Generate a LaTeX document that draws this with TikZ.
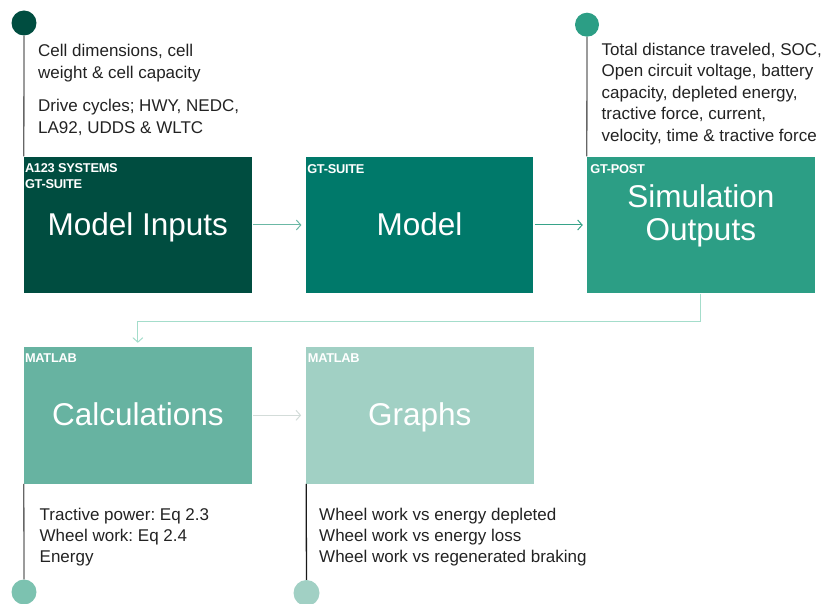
\documentclass[tikz,border=0pt]{standalone}
\usepackage{fontspec}
\setmainfont{Liberation Sans}
\newfontfamily\tagfont[LetterSpace=-2]{Liberation Sans}
\usetikzlibrary{arrows.meta,calc}
\frenchspacing

% stage fills, darkest to lightest
\definecolor{stageA}{HTML}{004D40}
\definecolor{stageB}{HTML}{00796A}
\definecolor{stageC}{HTML}{2C9E85}
\definecolor{stageD}{HTML}{67B3A1}
\definecolor{stageE}{HTML}{A1D0C4}
\definecolor{dotC}{HTML}{7CC2B0}
% connector colours
\definecolor{flowA}{HTML}{6BB8A5}
\definecolor{flowB}{HTML}{37A389}
\definecolor{flowC}{HTML}{A4DDCB}
\definecolor{flowD}{HTML}{D3DCD9}
\definecolor{notetext}{HTML}{222222}

\begin{document}
\begin{tikzpicture}[x=1pt,y=-1pt,
  stagebox/.style={rectangle, inner sep=0pt, minimum width=227.7pt, minimum height=136.6pt, draw=none},
  title/.style={anchor=base, inner sep=0pt, text=white, font=\fontsize{31.5}{33.3}\selectfont},
  tag/.style={anchor=north west, inner sep=0pt, align=left, text=white,
    font=\tagfont\bfseries\fontsize{12.8}{16}\selectfont},
  note/.style={anchor=north west, inner sep=0pt, align=left, text=notetext},
  dot/.style={circle, inner sep=0pt, minimum size=#1, draw=none},
  stem/.style={line width=1.3pt},
  flow/.style={-{Straight Barb[length=4.5pt,width=10pt]}, line width=1pt},
]
\useasboundingbox (0,0) rectangle (822,604);

% stage boxes
\node[stagebox, fill=stageA] (b1) at (137.85,225) {};
\node[stagebox, fill=stageB] (b2) at (419.5,225) {};
\node[stagebox, fill=stageC] (b3) at (700.85,225) {};
\node[stagebox, fill=stageD] (b4) at (137.85,415.3) {};
\node[stagebox, fill=stageE] (b5) at (419.7,415.3) {};

% tool tags in the box corners
\node[tag] (g1) at ($(b1.north west)+(1,6.6)$) {A123 SYSTEMS\\GT-SUITE};
\node[tag] (g2) at ($(b2.north west)+(1.6,7.8)$) {GT-SUITE};
\node[tag] (g3) at ($(b3.north west)+(3.3,8.2)$) {GT-POST};
\node[tag] (g4) at ($(b4.north west)+(1,6.6)$) {MATLAB};
\node[tag] (g5) at ($(b5.north west)+(2,6.6)$) {MATLAB};

% stage titles
\node[title] (t1) at ($(b1.center)+(0,11)$) {Model Inputs};
\node[title] (t2) at ($(b2.center)+(0,11)$) {Model};
\node[title, anchor=north, align=center] (t3) at (700.85,184) {Simulation\\Outputs};
\node[title] (t4) at ($(b4.center)+(0,9.7)$) {Calculations};
\node[title] (t5) at ($(b5.center)+(0,9.7)$) {Graphs};

% timeline dots and stems
\node[dot=25pt, fill=stageA] (c1) at (24,23) {};
\node[dot=24pt, fill=stageC] (c2) at (587,24.7) {};
\node[dot=25pt, fill=dotC] (c3) at (24,592) {};
\node[dot=26pt, fill=stageE] (c4) at (306.5,593) {};
\draw[stem, draw=black!60] (c1.south) -- (b1.north west);
\draw[stem, draw=black!60] (c2.south) -- (b3.north west);
\draw[stem, draw=black!60] (b4.south west) -- (c3.north);
\draw[stem, draw=black!90] ($(b5.south west)+(0.5,0)$) -- (c4.north);

% notes
\node[note, font=\fontsize{17}{22}\selectfont] (n1) at (38,44.1)
  {Cell dimensions, cell\\weight \& cell capacity};
\node[note, font=\fontsize{17}{22}\selectfont] (n2) at (38,98.6)
  {Drive cycles; HWY, NEDC,\\LA92, UDDS \& WLTC};
\node[note, font=\fontsize{17}{21.5}\selectfont] (n3) at (601.5,42.9)
  {Total distance traveled, SOC,\\Open circuit voltage, battery\\capacity, depleted energy,\\tractive force, current,\\velocity, time \& tractive force};
\node[note, font=\fontsize{17}{21}\selectfont] (n4) at (39.5,507.6)
  {Tractive power: Eq 2.3\\Wheel work: Eq 2.4\\Energy};
\node[note, font=\fontsize{17}{21}\selectfont] (n5) at (319,507.6)
  {Wheel work vs energy depleted\\Wheel work vs energy loss\\Wheel work vs regenerated braking};

% flow between stages
\draw[flow, draw=flowA, shorten <=1pt, shorten >=4pt] (b1.east) -- (b2.west);
\draw[flow, draw=flowB, shorten <=1pt, shorten >=4pt] (b2.east) -- (b3.west);
\draw[flow, draw=flowC, shorten >=4pt] (b3.south) -- ++(0,27.5) -| (b4.north);
\draw[flow, draw=flowD, shorten <=1.5pt, shorten >=4.5pt] (b4.east) -- (b5.west);
\end{tikzpicture}
\end{document}
